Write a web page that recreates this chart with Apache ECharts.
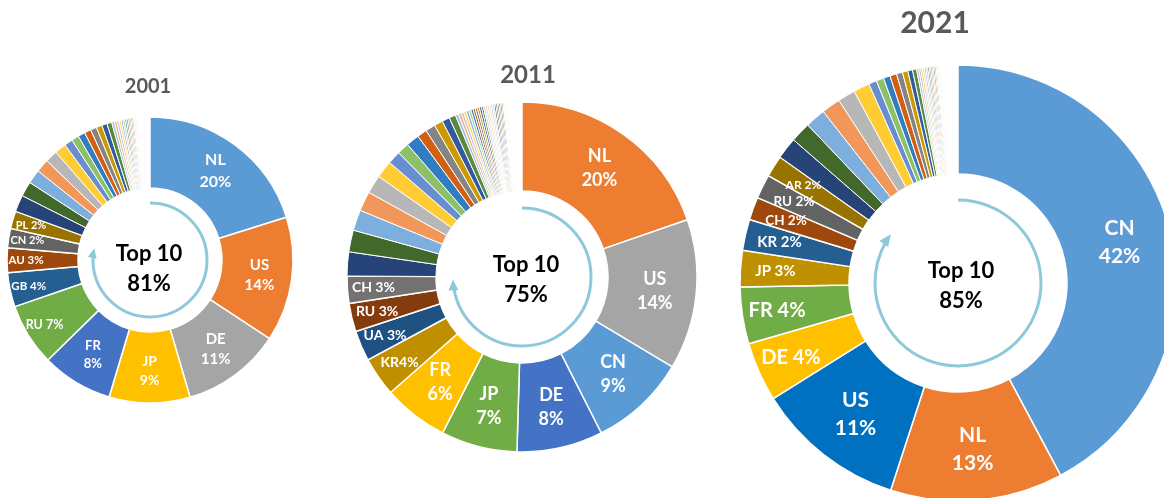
<!DOCTYPE html>
<html>
<head>
<meta charset="utf-8">
<script src="https://cdn.jsdelivr.net/npm/echarts@6/dist/echarts.min.js"></script>
<style>
  html, body { margin: 0; padding: 0; background: #fff; }
  #chart { width: 1164px; height: 498px; }
</style>
</head>
<body>
<div id="chart"></div>
<script>
// ---------- DATA (shares in %) ----------
const years = ['2001', '2011', '2021'];

const names2001 = ['NL', 'US', 'DE', 'JP', 'FR', 'RU', 'GB', 'AU', 'CN', 'PL'];
const top2001 = [20.3, 14.2, 11.3, 9.2, 8.1, 7.1, 3.9, 2.8, 2.2, 2.0];
const tail2001 = [1.9, 1.7, 1.6, 1.5, 1.4, 1.3, 0.95, 0.85, 0.8, 0.75, 0.7, 0.65, 0.6, 0.55,
  0.3, 0.28, 0.26, 0.24, 0.22, 0.2, 0.19, 0.18, 0.17, 0.16, 0.15, 0.14, 0.13, 0.12, 0.11, 0.1];
const gap2001 = 1.4;

const names2011 = ['NL', 'US', 'CN', 'DE', 'JP', 'FR', 'KR', 'UA', 'RU', 'CH'];
const top2011 = [19.6, 13.8, 8.9, 7.9, 7.0, 6.0, 3.6, 2.8, 2.6, 2.5];
const tail2011 = [2.2, 2.0, 1.9, 1.8, 1.7, 1.6, 1.2, 1.1, 1.2, 0.9, 0.9, 0.8, 0.7, 0.6,
  0.28, 0.26, 0.25, 0.24, 0.23, 0.22, 0.21, 0.2, 0.2, 0.19, 0.19, 0.18, 0.18, 0.17,
  0.17, 0.16, 0.16, 0.15, 0.15, 0.14, 0.14, 0.13, 0.13, 0.12, 0.12, 0.11, 0.1, 0.1];
const gap2011 = 1.3;

const names2021 = ['CN', 'NL', 'US', 'DE', 'FR', 'JP', 'KR', 'CH', 'RU', 'AR'];
const top2021 = [42.2, 12.8, 11.1, 4.4, 4.2, 2.7, 2.3, 1.7, 1.8, 1.6];
const tail2021 = [1.6, 1.5, 1.5, 1.4, 1.3, 1.2, 0.6, 0.55, 0.5, 0.5, 0.45, 0.4, 0.35, 0.3,
  0.16, 0.15, 0.14, 0.13, 0.12, 0.12, 0.11, 0.11, 0.1, 0.1, 0.1, 0.09, 0.09, 0.08, 0.08, 0.07];
const gap2021 = 1.3;

// ---------- STYLES ----------
const colorsTop2001 = ['#5B9BD5', '#ED7D31', '#A5A5A5', '#FFC000', '#4472C4', '#70AD47', '#255E91', '#9E480E', '#636363', '#997300'];
const colorsTop2011 = ['#ED7D31', '#A5A5A5', '#5B9BD5', '#4472C4', '#70AD47', '#FFC000', '#BF8F00', '#1F5283', '#843C0C', '#757171'];
const colorsTop2021 = ['#5B9BD5', '#ED7D31', '#0070C0', '#FFC000', '#70AD47', '#BF9000', '#255E91', '#9E480E', '#636363', '#997300'];
const tailColors = ['#264478', '#43682B', '#7CAFDD', '#F1975A', '#B7B7B7', '#FFCD33', '#698ED0', '#8CC168',
  '#327DC2', '#D26012', '#848484', '#CC9A00', '#335AA1', '#5A8A39',
  '#9DC3E6', '#F4B183', '#C9C9C9', '#FFD966', '#8FAADC', '#A9D18E', '#2E75B6', '#C55A11', '#7B7B7B',
  '#BF9000', '#2F5597', '#548235', '#BDD7EE', '#F8CBAD', '#DBDBDB', '#FFE699', '#B4C7E7', '#C5E0B4',
  '#1F4E79', '#843C0C', '#525252', '#7F6000', '#203864', '#385723', '#DEEBF7', '#FBE5D6', '#EDEDED', '#FFF2CC'];

const FONT = 'Lato, "Open Sans", sans-serif';
const arcColor = '#8DC9DA';

const charts = [
  { year: years[0], names: names2001, top: top2001, tail: tail2001, gap: gap2001, colors: colorsTop2001,
    center: [150, 260], radius: [72, 143], labelRing: [99, 143], titlePos: [148, 87], titleSize: 20,
    textPos: [149, 269], arcR: 57, tipDeg: 282, arrow: 10,
    labelSizes: [16, 15, 15, 14, 13, 12.5, 11.5, 11.5, 11, 11], twoLine: 5, seps: {} },
  { year: years[1], names: names2011, top: top2011, tail: tail2011, gap: gap2011, colors: colorsTop2011,
    center: [522, 277], radius: [86, 175], labelRing: [117, 175], titlePos: [528, 75], titleSize: 24,
    textPos: [526, 280], arcR: 69, tipDeg: 268, arrow: 11,
    labelSizes: [18, 18, 18, 18, 18, 18, 14, 14, 14, 14], twoLine: 6, seps: { 6: '' } },
  { year: years[2], names: names2021, top: top2021, tail: tail2021, gap: gap2021, colors: colorsTop2021,
    center: [958, 283], radius: [109, 218], labelRing: [142, 218], titlePos: [935, 23], titleSize: 30,
    textPos: [961, 286], arcR: 83, tipDeg: 306, arrow: 12,
    labelSizes: [21, 21, 21, 20, 20, 15, 15, 13.5, 13.5, 12], twoLine: 3, seps: {} }
];

const sum = a => a.reduce((s, v) => s + v, 0);

const series = [];
const titles = [];
const graphics = [];

function labelFor(c, i, show) {
  const fs = c.labelSizes[i];
  const sep = i < c.twoLine ? '\n' : (c.seps[i] !== undefined ? c.seps[i] : ' ');
  return {
    show: show,
    formatter: c.names[i] + sep + Math.round(c.top[i]) + '%',
    fontSize: fs, lineHeight: Math.round(fs * 1.35)
  };
}

charts.forEach(c => {
  const data = [];
  const labelData = [];
  c.top.forEach((v, i) => {
    data.push({ name: c.names[i], value: v, itemStyle: { color: c.colors[i], borderWidth: 1.5 }, label: labelFor(c, i, i < c.twoLine) });
    labelData.push({ name: c.names[i], value: v, label: labelFor(c, i, i >= c.twoLine) });
  });
  c.tail.forEach((v, i) => {
    data.push({ name: 'other' + i, value: v, itemStyle: { color: tailColors[i % tailColors.length] }, label: { show: false } });
    labelData.push({ name: 'other' + i, value: v, label: { show: false } });
  });
  data.push({ name: 'rest', value: c.gap, itemStyle: { color: 'rgba(0,0,0,0)', borderWidth: 0 }, label: { show: false } });
  labelData.push({ name: 'rest', value: c.gap, label: { show: false } });

  const common = {
    type: 'pie', center: c.center, startAngle: 90, clockwise: true,
    avoidLabelOverlap: false, minAngle: 0, silent: true,
    emphasis: { disabled: true },
    labelLayout: { hideOverlap: false },
    labelLine: { show: false },
    label: { position: 'inside', color: '#ffffff', fontFamily: FONT, fontWeight: 'bold', align: 'center' }
  };

  series.push(Object.assign({}, common, {
    radius: c.radius,
    itemStyle: { borderColor: '#ffffff', borderWidth: 1 },
    data: data
  }));
  // transparent ring used only to place the one-line labels nearer the outer edge
  series.push(Object.assign({}, common, {
    radius: c.labelRing, z: 3,
    itemStyle: { color: 'rgba(0,0,0,0)', borderWidth: 0 },
    data: labelData
  }));

  titles.push({
    text: c.year, left: c.titlePos[0], top: c.titlePos[1], padding: 0,
    textAlign: 'center', textVerticalAlign: 'middle',
    textStyle: { fontFamily: FONT, fontWeight: 'bold', fontSize: c.titleSize, color: '#595959' }
  });
  titles.push({
    text: 'Top 10\n' + Math.round(sum(c.top)) + '%', left: c.textPos[0], top: c.textPos[1], padding: 0,
    textAlign: 'center', textVerticalAlign: 'middle',
    textStyle: { fontFamily: FONT, fontWeight: 'bold', fontSize: 22, lineHeight: 30, color: '#000000' }
  });

  // circular arrow decoration
  const r = c.arcR, cx = c.center[0], cy = c.center[1];
  const tipPhi = (c.tipDeg - 90) * Math.PI / 180;
  const endPhi = tipPhi - (c.arrow * 0.8) / r;
  graphics.push({
    type: 'arc', silent: true,
    shape: { cx: cx, cy: cy, r: r, startAngle: -Math.PI / 2, endAngle: endPhi, clockwise: true },
    style: { stroke: arcColor, lineWidth: 3, fill: null }
  });
  const tx = cx + r * Math.cos(tipPhi), ty = cy + r * Math.sin(tipPhi);
  const dx = -Math.sin(tipPhi), dy = Math.cos(tipPhi);
  const nx = Math.cos(tipPhi), ny = Math.sin(tipPhi);
  const L = c.arrow, Wd = c.arrow * 0.9;
  const bx = tx - dx * L, by = ty - dy * L;
  graphics.push({
    type: 'polygon', silent: true,
    shape: { points: [[tx, ty], [bx + nx * Wd / 2, by + ny * Wd / 2], [bx - nx * Wd / 2, by - ny * Wd / 2]] },
    style: { fill: arcColor }
  });
});

const chart = echarts.init(document.getElementById('chart'), null, { renderer: 'canvas' });
chart.setOption({
  animation: false,
  backgroundColor: '#ffffff',
  title: titles,
  series: series,
  graphic: graphics
});
</script>
</body>
</html>
